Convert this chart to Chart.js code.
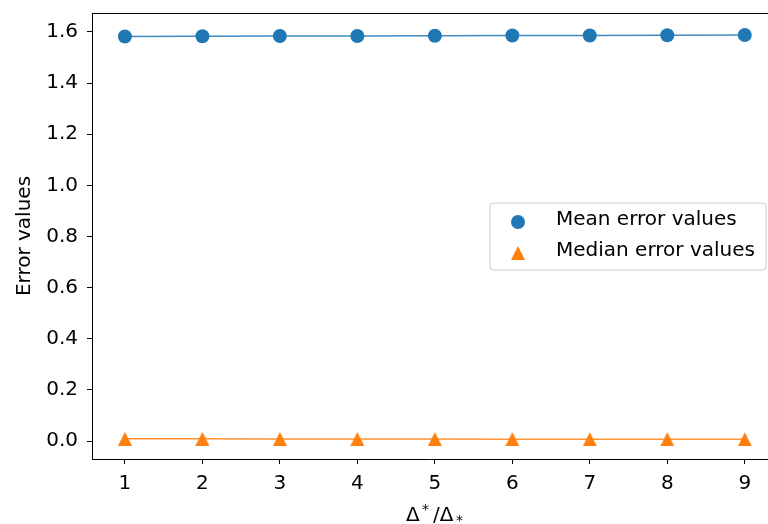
<!DOCTYPE html>
<html>
<head>
<meta charset="utf-8">
<script src="https://cdn.jsdelivr.net/npm/chart.js@4.4.0/dist/chart.umd.min.js"></script>
<style>
  body { margin: 0; background: #fff; }
  #wrap { width: 768px; height: 524px; }
</style>
</head>
<body>
<div id="wrap"><canvas id="errChart" width="768" height="524"></canvas></div>
<script>
const ratios = [1, 2, 3, 4, 5, 6, 7, 8, 9];
const meanErrors = [1.582, 1.583, 1.584, 1.584, 1.585, 1.586, 1.586, 1.587, 1.588];
const medianErrors = [0.009, 0.009, 0.0085, 0.008, 0.008, 0.0075, 0.0075, 0.007, 0.007];
const xTicks = [1, 2, 3, 4, 5, 6, 7, 8, 9];
const yTicks = [0.0, 0.2, 0.4, 0.6, 0.8, 1.0, 1.2, 1.4, 1.6];

const FONT = '"DejaVu Sans", sans-serif';
const BLUE = '#1f77b4';
const ORANGE = '#ff7f0e';

// matplotlib-style '^' marker: centred on its box, as wide as tall
function triangleMarker(size, color) {
  const c = document.createElement('canvas');
  c.width = size; c.height = size;
  const g = c.getContext('2d');
  g.fillStyle = color;
  g.beginPath();
  g.moveTo(size / 2, 0);
  g.lineTo(size, size);
  g.lineTo(0, size);
  g.closePath();
  g.fill();
  return c;
}
const triMarker = triangleMarker(14, ORANGE);

// spines, axis titles and the legend box drawn by hand (matplotlib look)
const decorations = {
  id: 'decorations',
  afterDraw(chart) {
    const { ctx, chartArea: a } = chart;
    ctx.save();
    ctx.strokeStyle = '#000';
    ctx.lineWidth = 1;
    ctx.beginPath();
    ctx.moveTo(a.left, a.top + 0.5);
    ctx.lineTo(a.right, a.top + 0.5);
    ctx.stroke();

    // y title
    ctx.fillStyle = '#000';
    ctx.font = '20px ' + FONT;
    ctx.textAlign = 'center';
    ctx.textBaseline = 'middle';
    ctx.save();
    ctx.translate(25, (a.top + a.bottom) / 2);
    ctx.rotate(-Math.PI / 2);
    ctx.fillText('Error values', 0, 0);
    ctx.restore();

    // x title: Δ^* / Δ_*
    ctx.textAlign = 'left';
    ctx.textBaseline = 'alphabetic';
    const base = 521;
    ctx.font = '20px ' + FONT;
    ctx.fillText('Δ', 406, base);
    ctx.fillText('/Δ', 433, base);
    ctx.font = '14px ' + FONT;
    ctx.fillText('*', 422, base - 7);
    ctx.fillText('*', 456, base + 4);

    // legend
    const lx = 490, ly = 203, lw = 276, lh = 67;
    ctx.beginPath();
    ctx.roundRect(lx, ly, lw, lh, 3);
    ctx.fillStyle = 'rgba(255,255,255,0.8)';
    ctx.fill();
    ctx.strokeStyle = '#cccccc';
    ctx.stroke();

    ctx.fillStyle = BLUE;
    ctx.beginPath();
    ctx.arc(518, 222, 7, 0, Math.PI * 2);
    ctx.fill();
    ctx.drawImage(triMarker, 511, 246);

    ctx.fillStyle = '#000';
    ctx.font = '20px ' + FONT;
    ctx.textBaseline = 'middle';
    ctx.fillText('Mean error values', 556, 220);
    ctx.fillText('Median error values', 556, 251);
    ctx.restore();
  }
};

new Chart(document.getElementById('errChart'), {
  type: 'scatter',
  data: {
    datasets: [
      {
        label: 'Mean error values',
        data: ratios.map((r, i) => ({ x: r, y: meanErrors[i] })),
        showLine: true,
        borderColor: 'rgba(31,119,180,0.85)',
        borderWidth: 1.5,
        backgroundColor: BLUE,
        pointBackgroundColor: BLUE,
        pointBorderWidth: 0,
        pointStyle: 'circle',
        pointRadius: 7,
        pointHoverRadius: 7
      },
      {
        label: 'Median error values',
        data: ratios.map((r, i) => ({ x: r, y: medianErrors[i] })),
        showLine: true,
        borderColor: 'rgba(255,127,14,0.85)',
        borderWidth: 1.5,
        backgroundColor: ORANGE,
        pointBackgroundColor: ORANGE,
        pointBorderWidth: 0,
        pointStyle: triMarker,
        pointRadius: 7,
        pointHoverRadius: 7
      }
    ]
  },
  options: {
    responsive: false,
    animation: false,
    layout: { autoPadding: false, padding: { top: 13, right: 0, left: 0, bottom: 0 } },
    plugins: {
      legend: { display: false },
      tooltip: { enabled: false }
    },
    scales: {
      x: {
        type: 'linear',
        min: 0.575,
        max: 9.3,
        afterFit: s => { s.height = 65; s.paddingLeft = 0; s.paddingRight = 0; },
        afterBuildTicks: s => { s.ticks = xTicks.map(v => ({ value: v })); },
        border: { display: true, color: '#000', width: 1 },
        grid: { display: true, drawOnChartArea: false, drawTicks: true, tickLength: 5, color: '#000' },
        ticks: { color: '#000', font: { family: FONT, size: 20 }, padding: 8, maxRotation: 0 }
      },
      y: {
        min: -0.07,
        max: 1.674,
        afterFit: s => { s.width = 92; s.paddingTop = 0; s.paddingBottom = 0; },
        afterBuildTicks: s => { s.ticks = yTicks.map(v => ({ value: v })); },
        border: { display: true, color: '#000', width: 1 },
        grid: { display: true, drawOnChartArea: false, drawTicks: true, tickLength: 5, color: '#000' },
        ticks: { color: '#000', font: { family: FONT, size: 20 }, padding: 9, callback: v => v.toFixed(1) }
      }
    }
  },
  plugins: [decorations]
});
</script>
</body>
</html>
